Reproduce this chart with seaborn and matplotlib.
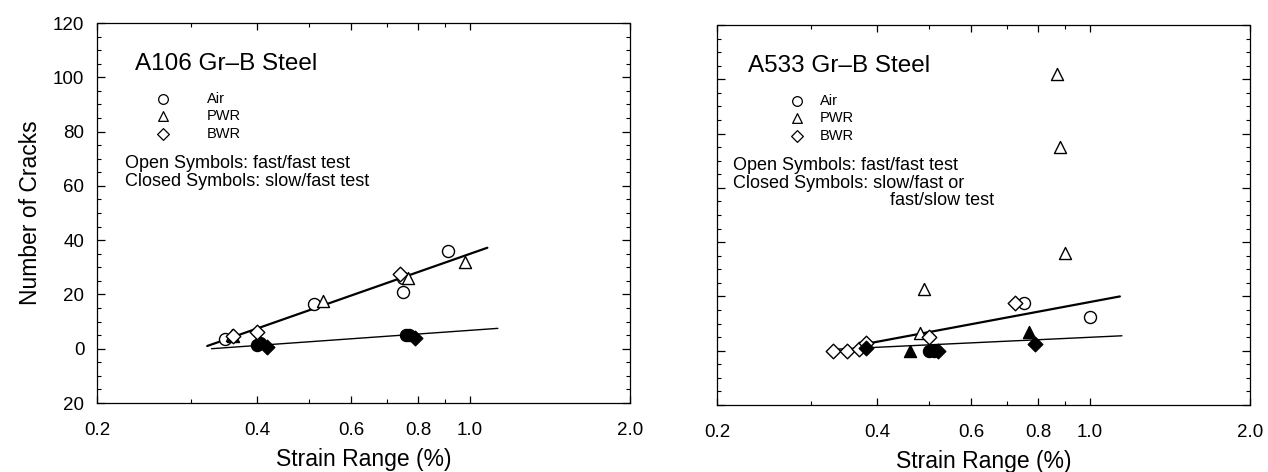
import matplotlib
matplotlib.use("Agg")
import matplotlib.pyplot as plt
import seaborn as sns
import pandas as pd
import numpy as np
from matplotlib.ticker import FixedLocator, NullFormatter

sns.set_theme(style="white")
plt.rcParams['font.family'] = ['Liberation Sans', 'DejaVu Sans']

# ---------------- data ----------------
panel_titles = ["A106 Gr\u2013B Steel", "A533 Gr\u2013B Steel"]
env_names = ["Air", "PWR", "BWR"]

# A106 Gr-B (left)
a106_air_open_x = [0.347, 0.51, 0.75, 0.75, 0.91]
a106_air_open_y = [3.5, 16.5, 21.0, 26.0, 36.0]
a106_pwr_open_x = [0.358, 0.53, 0.765, 0.98]
a106_pwr_open_y = [5.0, 17.5, 26.0, 32.0]
a106_bwr_open_x = [0.36, 0.40, 0.74]
a106_bwr_open_y = [4.5, 6.0, 27.5]
a106_air_closed_x = [0.40, 0.405, 0.76, 0.77]
a106_air_closed_y = [1.5, 2.0, 5.0, 5.0]
a106_pwr_closed_x = [0.36]
a106_pwr_closed_y = [4.5]
a106_bwr_closed_x = [0.417, 0.79]
a106_bwr_closed_y = [0.6, 4.0]
a106_fit_fast_x = [0.322, 1.08]
a106_fit_fast_y = [1.0, 37.2]
a106_fit_slow_x = [0.328, 1.13]
a106_fit_slow_y = [0.0, 7.5]

# A533 Gr-B (right)
a533_air_open_x = [0.755, 1.0]
a533_air_open_y = [17.5, 12.5]
a533_pwr_open_x = [0.49, 0.48, 0.87, 0.88, 0.90]
a533_pwr_open_y = [22.7, 6.7, 102.0, 75.0, 36.0]
a533_bwr_open_x = [0.33, 0.35, 0.37, 0.38, 0.726, 0.50]
a533_bwr_open_y = [0.0, 0.0, 0.6, 3.0, 17.5, 5.0]
a533_air_closed_x = [0.50, 0.51]
a533_air_closed_y = [0.0, 0.0]
a533_pwr_closed_x = [0.46, 0.77]
a533_pwr_closed_y = [0.0, 7.0]
a533_bwr_closed_x = [0.38, 0.52, 0.79]
a533_bwr_closed_y = [1.0, 0.0, 2.5]
a533_fit_fast_x = [0.38, 1.14]
a533_fit_fast_y = [2.5, 20.0]
a533_fit_slow_x = [0.33, 1.15]
a533_fit_slow_y = [0.5, 5.5]

x_tick_vals = [0.2, 0.4, 0.6, 0.8, 1.0, 2.0]
x_tick_labels = ["0.2", "0.4", "0.6", "0.8", "1.0", "2.0"]
x_minor_vals = [0.3, 0.5, 0.7, 0.9]
y_tick_vals = [-20, 0, 20, 40, 60, 80, 100, 120]
y_tick_labels = ["20", "0", "20", "40", "60", "80", "100", "120"]

def build(air_o, pwr_o, bwr_o, air_c, pwr_c, bwr_c):
    rows = []
    for env, (xs, ys), filled in [("Air", air_o, False), ("PWR", pwr_o, False),
                                  ("BWR", bwr_o, False), ("Air", air_c, True),
                                  ("PWR", pwr_c, True), ("BWR", bwr_c, True)]:
        for xv, yv in zip(xs, ys):
            rows.append({"strain": xv, "cracks": yv, "env": env, "closed": filled})
    return pd.DataFrame(rows)

df_a106 = build((a106_air_open_x, a106_air_open_y), (a106_pwr_open_x, a106_pwr_open_y),
                (a106_bwr_open_x, a106_bwr_open_y), (a106_air_closed_x, a106_air_closed_y),
                (a106_pwr_closed_x, a106_pwr_closed_y), (a106_bwr_closed_x, a106_bwr_closed_y))
df_a533 = build((a533_air_open_x, a533_air_open_y), (a533_pwr_open_x, a533_pwr_open_y),
                (a533_bwr_open_x, a533_bwr_open_y), (a533_air_closed_x, a533_air_closed_y),
                (a533_pwr_closed_x, a533_pwr_closed_y), (a533_bwr_closed_x, a533_bwr_closed_y))

markers = {"Air": "o", "PWR": "^", "BWR": "D"}
msize = {"Air": 75, "PWR": 75, "BWR": 55}

fig = plt.figure(figsize=(12.68, 4.72), dpi=100)
ax1 = fig.add_axes([97/1268, 1-403/472, 533/1268, 380/472])
ax2 = fig.add_axes([717/1268, 1-405/472, 533/1268, 380/472])

panels = [
    (ax1, df_a106, (a106_fit_fast_x, a106_fit_fast_y), (a106_fit_slow_x, a106_fit_slow_y),
     panel_titles[0], ["Open Symbols: fast/fast test", "Closed Symbols: slow/fast test"],
     dict(title=0.071, sym=0.124, txt=0.206, note=0.053, extra=None)),
    (ax2, df_a533, (a533_fit_fast_x, a533_fit_fast_y), (a533_fit_slow_x, a533_fit_slow_y),
     panel_titles[1], ["Open Symbols: fast/fast test", "Closed Symbols: slow/fast or"],
     dict(title=0.058, sym=0.15, txt=0.193, note=0.03, extra=0.52)),
]

for ax, df, fit_fast, fit_slow, title, notes, pos in panels:
    ax.set_xscale("log")
    sns.lineplot(x=fit_fast[0], y=fit_fast[1], ax=ax, color="black", lw=1.6,
                 estimator=None, sort=False, legend=False)
    sns.lineplot(x=fit_slow[0], y=fit_slow[1], ax=ax, color="black", lw=1.0,
                 estimator=None, sort=False, legend=False)
    for env in env_names:
        for closed in [False, True]:
            sub = df[(df.env == env) & (df.closed == closed)]
            if len(sub) == 0:
                continue
            sns.scatterplot(data=sub, x="strain", y="cracks", ax=ax, marker=markers[env],
                            s=msize[env], facecolor="black" if closed else "white",
                            edgecolor="black", linewidth=1.0, zorder=3, legend=False)
    ax.set_xlim(0.2, 2.0)
    ax.set_ylim(-20, 120)
    ax.xaxis.set_major_locator(FixedLocator(x_tick_vals))
    ax.set_xticklabels(x_tick_labels)
    ax.xaxis.set_minor_locator(FixedLocator(x_minor_vals))
    ax.xaxis.set_minor_formatter(NullFormatter())
    ax.yaxis.set_major_locator(FixedLocator(y_tick_vals))
    ax.yaxis.set_minor_locator(FixedLocator(np.arange(-15, 120, 5)))
    ax.tick_params(which="both", direction="in", top=True, right=True, bottom=True, left=True,
                   color="black", labelsize=13.5, labelcolor="black")
    ax.tick_params(axis="x", which="major", length=5, width=0.9, pad=14)
    ax.tick_params(axis="y", which="major", length=6, width=0.9, pad=9)
    ax.tick_params(which="minor", length=3, width=0.8)
    for sp in ax.spines.values():
        sp.set_visible(True)
        sp.set_color("black")
        sp.set_linewidth(0.9)
        sp.set_linestyle((0, (3, 1)))
    ax.set_xlabel("Strain Range (%)", fontsize=16.5, color="black", labelpad=6)
    ax.set_ylabel("")
    ax.grid(False)

    # in-plot annotation block
    ax.text(pos["title"], 0.893, title, transform=ax.transAxes, fontsize=17.5,
            ha="left", va="center", color="black")
    row_y = [0.80, 0.755, 0.708]
    for env, ry in zip(env_names, row_y):
        ax.scatter([pos["sym"]], [ry], transform=ax.transAxes, marker=markers[env],
                   s=msize[env] * 0.65, facecolor="white", edgecolor="black", lw=0.9,
                   clip_on=False, zorder=4)
        ax.text(pos["txt"], ry, env, transform=ax.transAxes, fontsize=10.5,
                ha="left", va="center", color="black")
    ax.text(pos["note"], 0.63, notes[0], transform=ax.transAxes, fontsize=13,
            ha="left", va="center", color="black")
    ax.text(pos["note"], 0.584, notes[1], transform=ax.transAxes, fontsize=13,
            ha="left", va="center", color="black")
    if pos["extra"] is not None:
        ax.text(pos["extra"], 0.538, "fast/slow test", transform=ax.transAxes, fontsize=13,
                ha="right", va="center", color="black")

ax1.set_yticklabels(y_tick_labels)
ax1.set_ylabel("Number of Cracks", fontsize=16.5, color="black", labelpad=8)
ax2.set_yticklabels([])

fig.savefig("out.png", dpi=100, facecolor="white")
